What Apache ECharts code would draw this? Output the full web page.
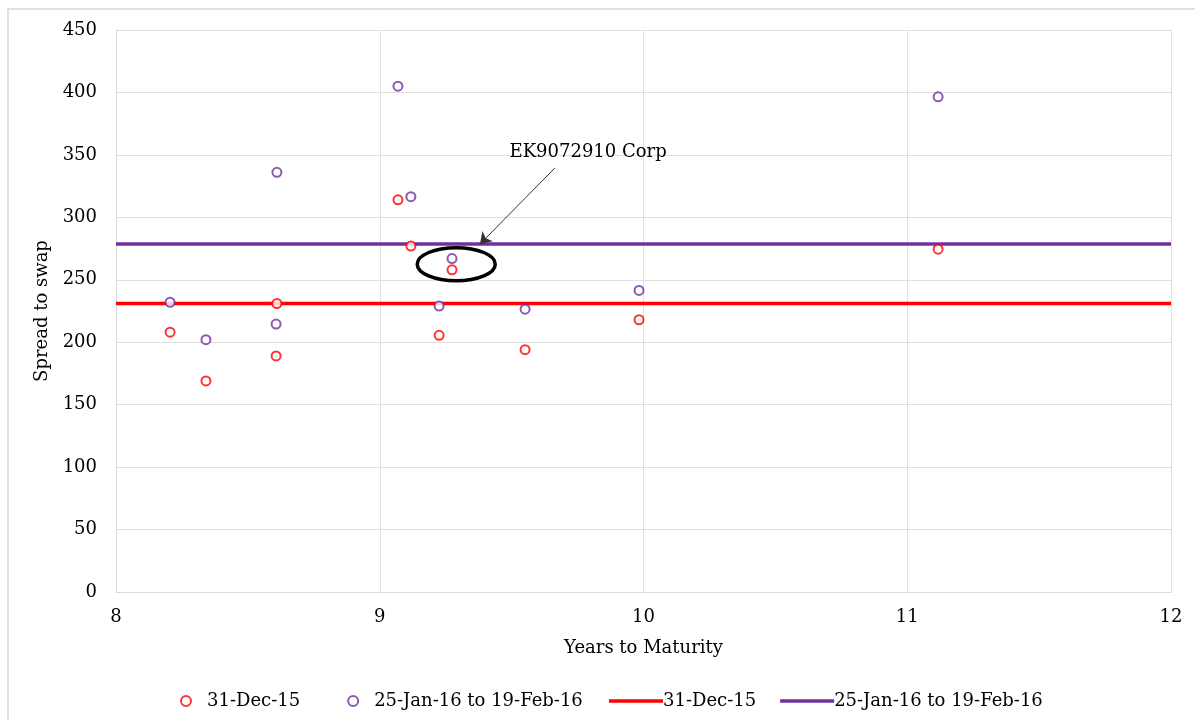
<!DOCTYPE html>
<html>
<head>
<meta charset="utf-8">
<script src="https://cdn.jsdelivr.net/npm/echarts@6/dist/echarts.min.js"></script>
<style>
html,body{margin:0;padding:0;background:#fff;}
#c{width:1195px;height:720px;}
</style>
</head>
<body>
<div id="c"></div>
<script>
// Years to maturity of each bond
const years = [8.205, 8.341, 8.61, 8.607, 9.069, 9.118, 9.274, 9.225, 9.551, 9.983, 11.117];
// Spread to swap on 31-Dec-15
const spreadDec15 = [208, 169, 231, 189, 314, 277, 258, 205.5, 194, 218, 274.5];
// Spread to swap 25-Jan-16 to 19-Feb-16
const spreadJanFeb16 = [232, 202, 336, 214.5, 405, 316.5, 267, 229, 226.5, 241.5, 396.5];
// Average lines
const avgDec15 = 231;
const avgJanFeb16 = 278.6;
const xRange = [8, 12];
// Annotation
const annotLabel = 'EK9072910 Corp';
const annotPoint = [9.29, 262.5];     // ellipse centre
const annotTextPos = [9.79, 352];      // label
const arrowFrom = [9.664, 339.5];
const arrowTo = [9.38, 278.6];

const FONT = 'DejaVu Serif';
const FS = 18;
const RED = '#ff0000';
const PURPLE = '#7030a0';

const chart = echarts.init(document.getElementById('c'));

const option = {
  backgroundColor: '#fff',
  animation: false,
  textStyle: {fontFamily: FONT, color: '#000'},
  grid: {left: 116, right: 24, top: 30, bottom: 128, containLabel: false},
  xAxis: {
    type: 'value', min: 8, max: 12, interval: 1,
    name: 'Years to Maturity', nameLocation: 'middle', nameGap: 47,
    nameTextStyle: {fontFamily: FONT, fontSize: FS, color: '#000'},
    axisLine: {show: true, lineStyle: {color: '#d9d9d9'}},
    axisTick: {show: false},
    axisLabel: {fontFamily: FONT, fontSize: FS, color: '#000', margin: 16},
    splitLine: {show: true, lineStyle: {color: '#e0e0e0'}}
  },
  yAxis: {
    type: 'value', min: 0, max: 450, interval: 50,
    name: 'Spread to swap', nameLocation: 'middle', nameGap: 65, nameRotate: 90,
    nameTextStyle: {fontFamily: FONT, fontSize: FS, color: '#000'},
    axisLine: {show: true, lineStyle: {color: '#d9d9d9'}},
    axisTick: {show: false},
    axisLabel: {fontFamily: FONT, fontSize: FS, color: '#000', margin: 19, padding: [10, 0, 0, 0]},
    splitLine: {show: true, lineStyle: {color: '#e0e0e0'}}
  },
  legend: [
    {
      left: 175, top: 687, itemWidth: 10, itemHeight: 10, itemGap: 47,
      textStyle: {fontFamily: FONT, fontSize: FS, color: '#000', padding: [0, 0, 0, 11]},
      data: ['31-Dec-15', '25-Jan-16 to 19-Feb-16']
    },
    {
      left: 604, top: 687, itemWidth: 54, itemHeight: 3.5, itemGap: 24,
      formatter: n => n.trim(),
      textStyle: {fontFamily: FONT, fontSize: FS, color: '#000', padding: [0, 0, 0, -5]},
      data: [
        {name: '31-Dec-15 ', icon: 'rect'},
        {name: '25-Jan-16 to 19-Feb-16 ', icon: 'rect'}
      ]
    }
  ],
  series: [
    {
      name: '31-Dec-15 ', type: 'line', showSymbol: false, symbol: 'none', z: 2,
      lineStyle: {color: RED, width: 3.5}, itemStyle: {color: RED},
      data: [[xRange[0], avgDec15], [xRange[1], avgDec15]]
    },
    {
      name: '25-Jan-16 to 19-Feb-16 ', type: 'line', showSymbol: false, symbol: 'none', z: 2,
      lineStyle: {color: PURPLE, width: 3.5}, itemStyle: {color: PURPLE},
      data: [[xRange[0], avgJanFeb16], [xRange[1], avgJanFeb16]],
      markLine: {
        silent: true, animation: false,
        symbol: ['none', 'arrow'], symbolSize: 11,
        lineStyle: {color: '#333', width: 1, type: 'solid'},
        itemStyle: {color: '#000'},
        label: {show: false},
        emphasis: {disabled: true},
        data: [[{coord: arrowFrom}, {coord: arrowTo}]]
      }
    },
    {
      name: '31-Dec-15', type: 'scatter', symbol: 'emptyCircle', symbolSize: 9, z: 3,
      itemStyle: {color: RED, borderColor: RED, borderWidth: 1.6},
      data: years.map((x, i) => [x, spreadDec15[i]])
    },
    {
      name: '25-Jan-16 to 19-Feb-16', type: 'scatter', symbol: 'emptyCircle', symbolSize: 9, z: 3,
      itemStyle: {color: PURPLE, borderColor: PURPLE, borderWidth: 1.6},
      data: years.map((x, i) => [x, spreadJanFeb16[i]])
    }
  ]
};
chart.setOption(option);

const c = chart.convertToPixel({gridIndex: 0}, annotPoint);
const t = chart.convertToPixel({gridIndex: 0}, annotTextPos);
chart.setOption({
  graphic: [
    {type: 'rect', silent: true, z: -10, shape: {x: 8, y: 9, width: 1300, height: 800},
     style: {fill: 'none', stroke: '#d9d9d9', lineWidth: 1.5}},
    {type: 'ellipse', silent: true, z: 100, shape: {cx: c[0], cy: c[1], rx: 39, ry: 16.5},
     style: {fill: 'none', stroke: '#000', lineWidth: 3.5}},
    {type: 'text', silent: true, z: 100, x: t[0], y: t[1],
     style: {text: annotLabel, font: FS + 'px "DejaVu Serif"', fill: '#000', align: 'center', verticalAlign: 'middle'}}
  ]
});
</script>
</body>
</html>
